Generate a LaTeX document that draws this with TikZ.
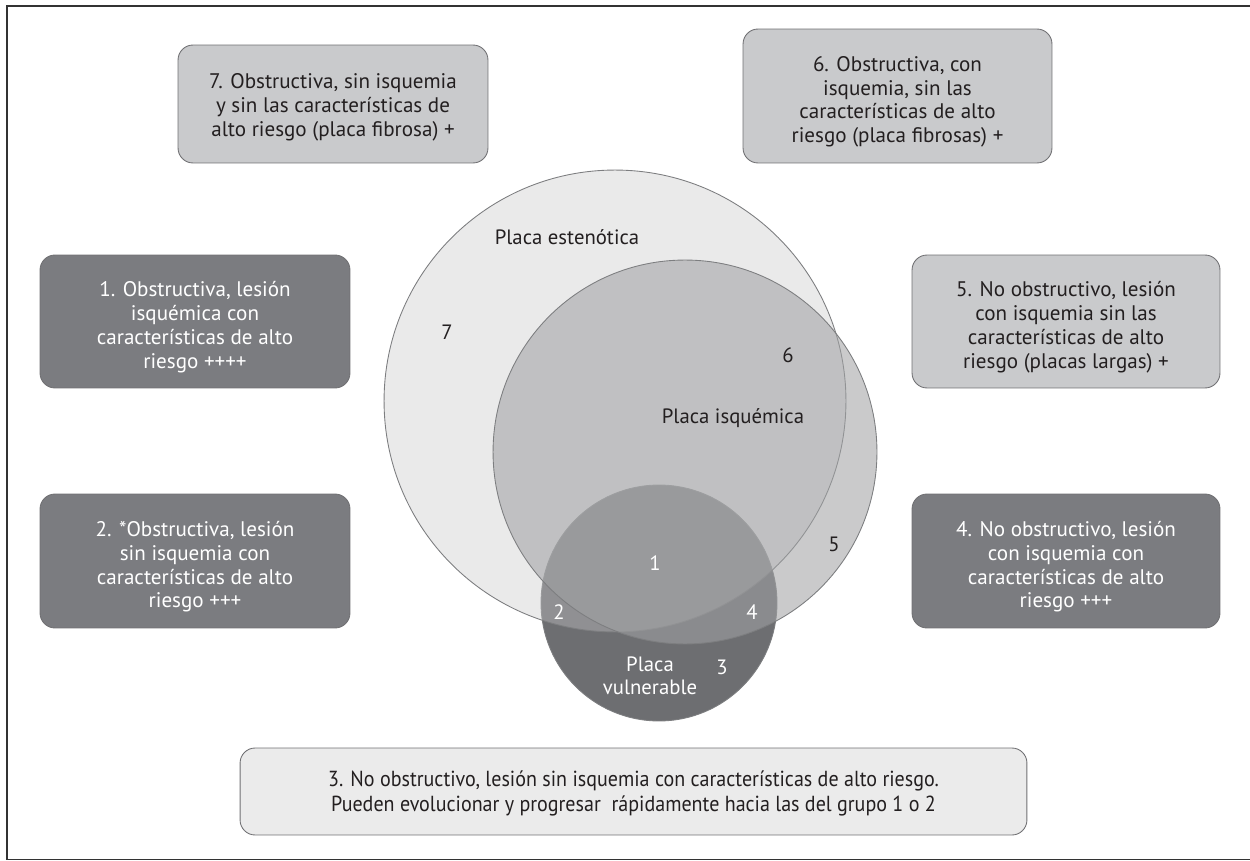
\documentclass[tikz,border=0pt]{standalone}
\usepackage{fontspec}
\setmainfont{PT Sans}
\newfontfamily\narrowfont[FakeStretch=0.92]{PT Sans}
\usetikzlibrary{positioning}

\definecolor{boxdark}{HTML}{7B7C80}
\definecolor{boxlight}{HTML}{C9CACC}
\definecolor{boxpale}{HTML}{EBEBEB}
\definecolor{edgegray}{HTML}{707073}
\definecolor{inkdark}{HTML}{231F20}
\definecolor{vulnfill}{HTML}{6D6E71}
\definecolor{estenfill}{HTML}{C8C8CA}
\definecolor{isqfill}{HTML}{A1A2A4}
\definecolor{setline}{HTML}{7D7E80}

\begin{document}
\begin{tikzpicture}[
    x=0.02cm, y=-0.02cm,
    card/.style={rectangle, rounded corners=0.3cm, draw=edgegray, line width=0.5pt,
                 minimum width=6.2cm, minimum height=2.66cm, align=center,
                 text height=56pt, font=\fontsize{12}{13.6}\selectfont},
    darkcard/.style={card, fill=boxdark, text=white},
    lightcard/.style={card, fill=boxlight, text=inkdark},
    set/.style={circle, draw=setline, line width=0.5pt, inner sep=0pt},
    tag/.style={font=\fontsize{11.8}{13.2}\selectfont, text=inkdark, align=center},
    wtag/.style={tag, text=white}
]
\useasboundingbox (0,0) rectangle (1250,861);

% Outer frame
\draw[line width=0.7pt, black!80] (7,6) rectangle (1253,859.5);

% Sets
\node[set, fill=vulnfill, minimum size=4.72cm] (vuln) at (659,603) {};
\node[set, fill=estenfill, fill opacity=0.39, minimum size=9.24cm] (esten) at (615,401) {};
\node[set, fill=isqfill, fill opacity=0.57, minimum size=7.68cm] (isq) at (685,452) {};

% Set labels
\node[tag] (lesten) at (567,237) {Placa estenótica};
\node[tag] (lisq) at (733,418) {Placa isquémica};
\node[wtag] (lvuln) at (650,676) {Placa\\vulnerable};
\node[tag] (n7) at (447,332) {7};
\node[tag] (n6) at (788,355) {6};
\node[tag] (n5) at (834,544) {5};
\node[wtag] (n1) at (655,563) {1};
\node[wtag] (n2) at (559,612) {2};
\node[wtag] (n4) at (752,612) {4};
\node[wtag] (n3) at (722,667) {3};

% Top row
\node[lightcard, minimum height=2.36cm, text height=39.2pt] (g7) at (333,104)
  {7. Obstructiva, sin isquemia\\y sin las características de\\alto riesgo (placa fibrosa) +};
\node[lightcard, minimum width=6.18cm, minimum height=2.68cm] (g6) at (897.5,96)
  {6. Obstructiva, con\\isquemia, sin las\\características de alto\\riesgo (placa fibrosas) +};

% Left column
\node[darkcard] (g1) at (195,321.5)
  {1. Obstructiva, lesión\\isquémica con\\características de alto\\riesgo ++++};
\node[darkcard, minimum height=2.68cm] (g2) at (195,561)
  {2. *Obstructiva, lesión\\sin isquemia con\\características de alto\\riesgo +++};

% Right column
\node[lightcard, minimum width=6.16cm] (g5) at (1066,321.5)
  {5. No obstructivo, lesión\\con isquemia sin las\\características de alto\\riesgo (placas largas) +};
\node[darkcard, minimum width=6.16cm, minimum height=2.68cm] (g4) at (1066,561)
  {4. No obstructivo, lesión\\con isquemia con\\características de alto\\riesgo +++};

% Bottom note
\node[card, fill=boxpale, text=inkdark, minimum width=15.74cm, minimum height=1.74cm,
      text height=25.3pt, font=\narrowfont\fontsize{12.4}{14.2}\selectfont] (g3) at (633.5,791.5)
  {3. No obstructivo, lesión sin isquemia con características de alto riesgo.\\
   Pueden evolucionar y progresar~ rápidamente hacia las del grupo 1 o 2};
\end{tikzpicture}
\end{document}
